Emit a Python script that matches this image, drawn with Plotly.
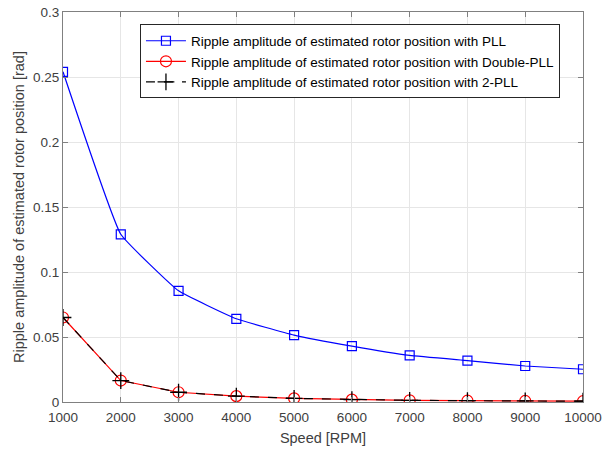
import plotly.graph_objects as go

speed = [1000, 2000, 3000, 4000, 5000, 6000, 7000, 8000, 9000, 10000]
pll = [0.254, 0.129, 0.0855, 0.064, 0.0515, 0.043, 0.0358, 0.0318, 0.0277, 0.0252]
dpll = [0.065, 0.0165, 0.0075, 0.0045, 0.0028, 0.0018, 0.0013, 0.001, 0.0008, 0.0006]
pll2 = [0.065, 0.0165, 0.0075, 0.0045, 0.0028, 0.0018, 0.0013, 0.001, 0.0008, 0.0006]

names = ["Ripple amplitude of estimated rotor position with PLL",
         "Ripple amplitude of estimated rotor position with Double-PLL",
         "Ripple amplitude of estimated rotor position with 2-PLL"]

fig = go.Figure()
fig.add_trace(go.Scatter(x=speed, y=pll, name=names[0], mode="lines+markers",
                         line=dict(color="#0000ff", width=1.2, shape="spline", smoothing=0.3),
                         marker=dict(symbol="square-open", size=9, color="#0000ff", line=dict(width=1.2))))
fig.add_trace(go.Scatter(x=speed, y=dpll, name=names[1], mode="lines+markers",
                         line=dict(color="#ff0000", width=1.2),
                         marker=dict(symbol="circle-open", size=11, color="#ff0000", line=dict(width=1.2))))
fig.add_trace(go.Scatter(x=speed, y=pll2, name=names[2], mode="lines+markers",
                         line=dict(color="#000000", width=1.2, dash="dash"),
                         marker=dict(symbol="cross-thin-open", size=12, color="#000000", line=dict(width=1.3))))

axis_common = dict(showline=True, mirror="ticks", linecolor="#808080", linewidth=1,
                   ticks="inside", ticklen=5, tickcolor="#808080",
                   showgrid=True, gridcolor="#e6e6e6", gridwidth=1, zeroline=False,
                   tickfont=dict(size=13.5, color="#404040"),
                   title_font=dict(size=14.5, color="#404040"), automargin=False)

fig.update_xaxes(range=[1000, 10000], tickvals=speed, ticktext=[str(s) for s in speed],
                 title_text="Speed [RPM]", title_standoff=8, ticklabelstandoff=3, **axis_common)
fig.update_yaxes(range=[0, 0.3], tickvals=[0, 0.05, 0.1, 0.15, 0.2, 0.25, 0.3],
                 ticktext=["0", "0.05", "0.1", "0.15", "0.2", "0.25", "0.3"],
                 title_text="Ripple amplitude of estimated rotor position [rad]", title_standoff=4,
                 **axis_common)

fig.update_layout(width=612, height=453, margin=dict(l=63, r=29, t=12, b=51),
                  plot_bgcolor="white", paper_bgcolor="white",
                  font=dict(family="Liberation Sans, Arial, sans-serif", color="#262626"),
                  legend=dict(x=0.148, y=0.968, xanchor="left", yanchor="top",
                              bgcolor="white", bordercolor="#262626", borderwidth=1,
                              font=dict(size=13.5, color="#000000"), tracegroupgap=0,
                              itemwidth=40))

fig.write_html("out.html")
